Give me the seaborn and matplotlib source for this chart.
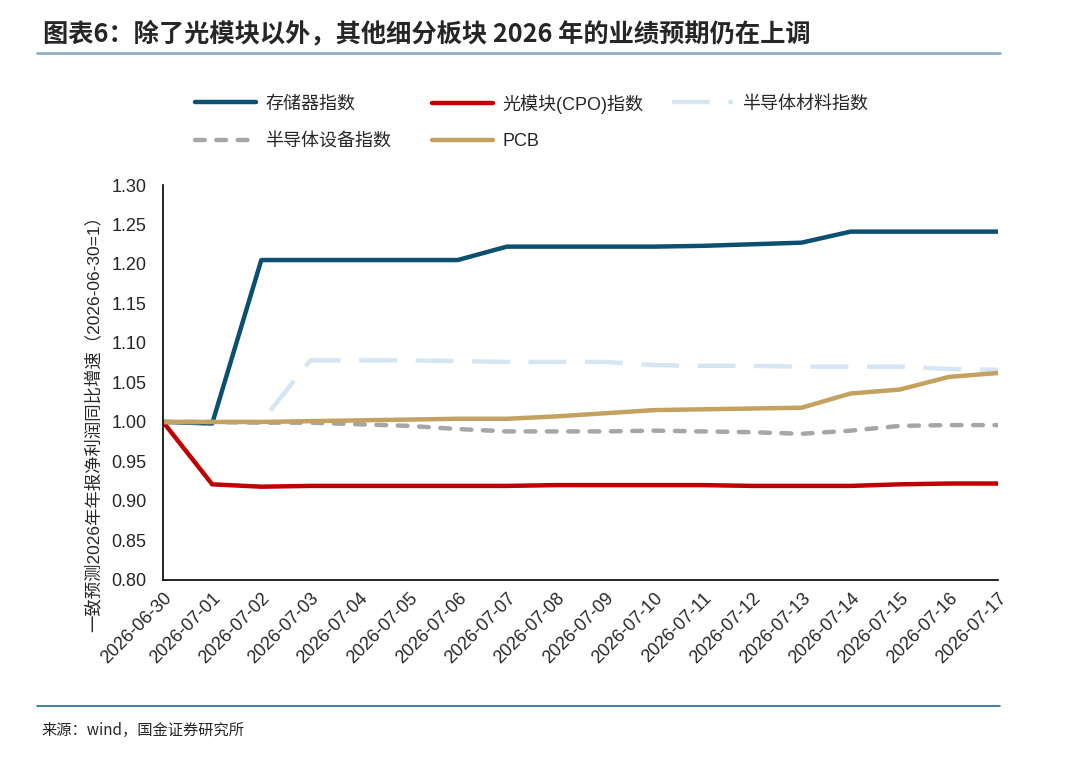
import pandas as pd
import seaborn as sns
import matplotlib.pyplot as plt
from matplotlib.lines import Line2D

dates = [
    "2026-06-30", "2026-07-01", "2026-07-02", "2026-07-03", "2026-07-04",
    "2026-07-05", "2026-07-06", "2026-07-07", "2026-07-08", "2026-07-09",
    "2026-07-10", "2026-07-11", "2026-07-12", "2026-07-13", "2026-07-14",
    "2026-07-15", "2026-07-16", "2026-07-17",
]

storage = [1.000, 0.998, 1.205, 1.205, 1.205, 1.205, 1.205, 1.222, 1.222,
           1.222, 1.222, 1.223, 1.225, 1.227, 1.241, 1.241, 1.241, 1.241]
cpo = [1.000, 0.921, 0.918, 0.919, 0.919, 0.919, 0.919, 0.919, 0.920,
       0.920, 0.920, 0.920, 0.919, 0.919, 0.919, 0.921, 0.922, 0.922]
materials = [1.000, 1.000, 1.000, 1.078, 1.078, 1.078, 1.077, 1.076, 1.076,
             1.076, 1.072, 1.071, 1.071, 1.070, 1.070, 1.070, 1.067, 1.066]
equipment = [1.000, 1.000, 0.999, 0.999, 0.997, 0.995, 0.991, 0.988, 0.988,
             0.988, 0.989, 0.988, 0.987, 0.985, 0.989, 0.995, 0.996, 0.996]
pcb = [1.000, 1.000, 1.000, 1.001, 1.002, 1.003, 1.004, 1.004, 1.007,
       1.011, 1.015, 1.016, 1.017, 1.018, 1.036, 1.041, 1.057, 1.062]

names = ["存储器指数", "光模块(CPO)指数", "半导体材料指数", "半导体设备指数", "PCB"]
colors = ["#0B4F71", "#C00000", "#D5E5F4", "#A6A6A6", "#C4A15E"]
dash_styles = [None, None, (8.5, 4.2), (2.2, 2.6), None]

sns.set_style("white")
plt.rcParams["font.family"] = ["Liberation Sans", "Noto Sans CJK SC", "DejaVu Sans"]

df = pd.DataFrame({
    "date": dates,
    names[0]: storage,
    names[1]: cpo,
    names[2]: materials,
    names[3]: equipment,
    names[4]: pcb,
})
df["x"] = range(len(dates))

fig = plt.figure(figsize=(10.8, 7.63), dpi=100)
ax = fig.add_axes([0.151, 0.240, 0.773, 0.5175])

handles = []
for name, color, dash in zip(names, colors, dash_styles):
    sns.lineplot(data=df, x="x", y=name, ax=ax, color=color, linewidth=3.2)
    line = ax.lines[-1]
    cap = "round" if name == names[3] else "butt"
    if dash is not None:
        line.set_dashes(dash)
        line.set_dash_capstyle(cap)
    handles.append(Line2D([], [], color=color, linewidth=3.2,
                          dashes=dash if dash is not None else (None, None),
                          dash_capstyle=cap))

ax.set_xlim(0, len(dates) - 1)
ax.set_ylim(0.80, 1.30)
ax.set_yticks([0.80 + 0.05 * i for i in range(11)])
ax.set_yticklabels([f"{0.80 + 0.05 * i:.2f}" for i in range(11)], fontsize=13)
ax.set_xticks(df["x"])
ax.set_xticklabels(dates, rotation=45, ha="right", rotation_mode="anchor", fontsize=13)
ax.set_xlabel("")
ax.set_ylabel("一致预测2026年年报净利润同比增速（2026-06-30=1）", fontsize=12.5)
ax.yaxis.set_label_coords(-0.074, 0.405)
ax.tick_params(axis="y", direction="in", length=5, width=1, color="black", pad=12)
ax.tick_params(axis="x", direction="in", length=5, width=1, color="black", pad=7)
for side in ["top", "right"]:
    ax.spines[side].set_visible(False)
for side in ["left", "bottom"]:
    ax.spines[side].set_color("black")
    ax.spines[side].set_linewidth(1.2)

# legend entries placed like the source chart (row by row)
legend_pos = [(195, 104), (432, 104), (672, 104), (195, 142), (432, 142)]
for h, name, (px, py) in zip(handles, names, legend_pos):
    fig.legend([h], [name], loc="center left",
               bbox_to_anchor=(px / 1080, 1 - py / 763),
               frameon=False, fontsize=13, handlelength=3.4,
               handletextpad=0.5, borderpad=0, borderaxespad=0)

fig.text(0.040, 0.956, "图表6：除了光模块以外，其他细分板块 2026 年的业绩预期仍在上调",
         fontsize=18.2, fontweight="bold", style="italic", va="center",
         family=["Noto Sans CJK SC", "DejaVu Sans"])
fig.add_artist(Line2D([0.034, 0.926], [0.930, 0.930], color="#8FAFC4", linewidth=2))
fig.add_artist(Line2D([0.034, 0.926], [0.075, 0.075], color="#1F6A8E", linewidth=1.2))
fig.text(0.038, 0.043, "来源：wind，国金证券研究所", fontsize=11, va="center",
         family=["Noto Sans CJK SC", "DejaVu Sans"])

fig.savefig("out.png", dpi=100)
